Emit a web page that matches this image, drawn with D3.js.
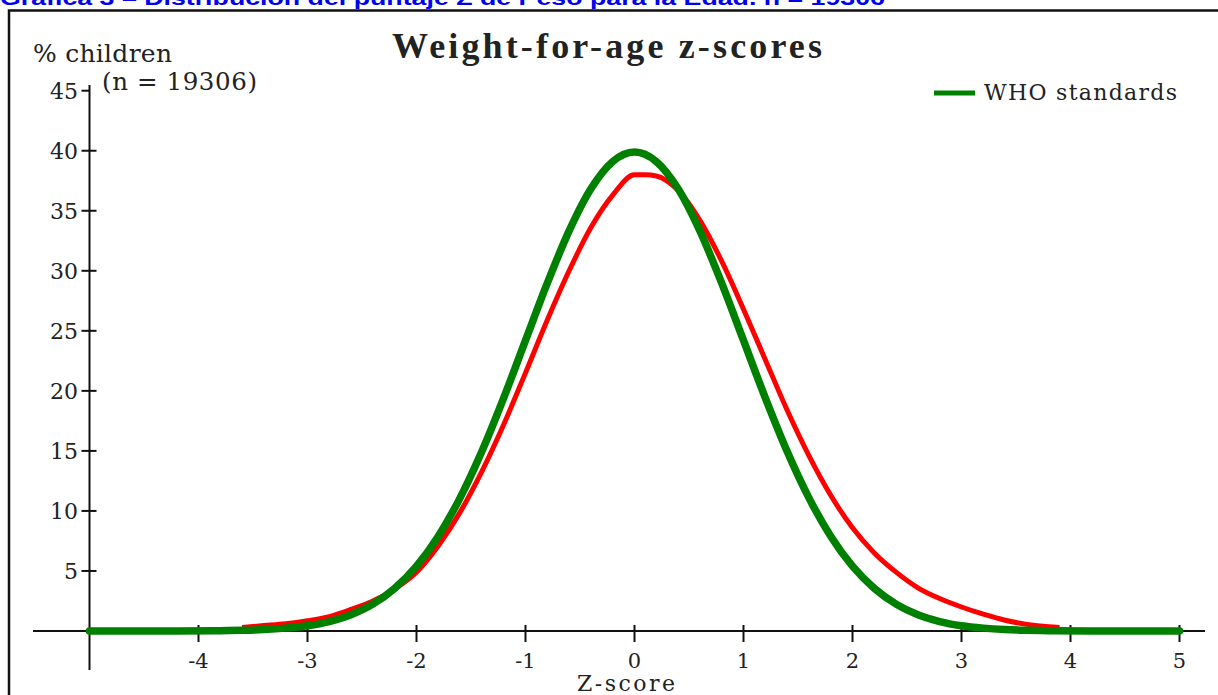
<!DOCTYPE html>
<html>
<head>
<meta charset="utf-8">
<script src="https://cdn.jsdelivr.net/npm/d3@7"></script>
<style>
  html, body { margin: 0; padding: 0; background: #fff; overflow: hidden; }
</style>
</head>
<body>
<svg id="chart"></svg>
<script>
// WHO reference curve (% children by z-score)
const whoZ = [-5.0, -4.6, -4.2, -3.8, -3.6, -3.4, -3.2, -3.0, -2.8, -2.6, -2.4, -2.2, -2.0, -1.8, -1.6, -1.4, -1.2, -1.0, -0.8, -0.6, -0.4, -0.2, 0.0,
  0.2, 0.4, 0.6, 0.8, 1.0, 1.2, 1.4, 1.6, 1.8, 2.0, 2.2, 2.4, 2.6, 2.8, 3.0, 3.2, 3.4, 3.6, 3.8, 4.2, 4.6, 5.0];
const whoPct = [0, 0, 0, 0.03, 0.06, 0.12, 0.24, 0.44, 0.79, 1.36, 2.24, 3.55, 5.4, 7.9, 11.09, 14.97, 19.42, 24.2, 28.97, 33.32, 36.83, 39.1, 39.89,
  39.1, 36.83, 33.32, 28.97, 24.2, 19.42, 14.97, 11.09, 7.9, 5.4, 3.55, 2.24, 1.36, 0.79, 0.44, 0.24, 0.12, 0.06, 0.03, 0, 0, 0];

// survey sample curve (n = 19306)
const surveyZ = [-3.6, -3.4, -3.2, -3.0, -2.8, -2.6, -2.4, -2.2, -2.0, -1.8, -1.6, -1.4, -1.2, -1.0, -0.8, -0.6, -0.4, -0.2, 0.0, 0.1, 0.2,
  0.4, 0.6, 0.8, 1.0, 1.2, 1.4, 1.6, 1.8, 2.0, 2.2, 2.4, 2.6, 2.8, 3.0, 3.2, 3.4, 3.6, 3.8, 3.9];
const surveyPct = [0.3, 0.45, 0.6, 0.85, 1.2, 1.8, 2.5, 3.5, 4.9, 7.1, 9.9, 13.3, 17.2, 21.5, 25.9, 30.0, 33.6, 36.3, 38, 38, 37.9,
  36.7, 34.2, 30.8, 26.8, 22.6, 18.4, 14.6, 11.3, 8.6, 6.5, 4.9, 3.6, 2.7, 2.0, 1.4, 0.9, 0.55, 0.35, 0.3];

const xTicks = [-4, -3, -2, -1, 0, 1, 2, 3, 4, 5];
const yTicks = [5, 10, 15, 20, 25, 30, 35, 40, 45];

const pageTitle = "Gráfica 3 – Distribución del puntaje Z de Peso para la Edad. n = 19306";
const chartTitle = "Weight-for-age z-scores";
const legendLabel = "WHO standards";

const width = 1218, height = 695;
const serif = "'DejaVu Serif', serif";

const svg = d3.select("#chart")
  .attr("width", width)
  .attr("height", height);

// page heading, cut off at the top as in the scan
svg.append("text")
  .attr("x", 0)
  .attr("y", 5)
  .attr("textLength", 885)
  .attr("lengthAdjust", "spacingAndGlyphs")
  .style("font-family", "'Liberation Sans', Arial, sans-serif")
  .style("font-weight", "bold")
  .style("font-size", "20px")
  .style("fill", "#0000ee")
  .text(pageTitle);

// frame
svg.append("rect")
  .attr("x", 9)
  .attr("y", 10.5)
  .attr("width", 1240)
  .attr("height", 720)
  .style("fill", "none")
  .style("stroke", "#111")
  .style("stroke-width", 2.5);

const x = d3.scaleLinear().domain([-5, 5]).range([89.5, 1179.5]);
const y = d3.scaleLinear().domain([0, 45]).range([631, 90.7]);

// x axis
svg.append("line")
  .attr("x1", 33).attr("x2", 1205)
  .attr("y1", y(0)).attr("y2", y(0))
  .style("stroke", "#111").style("stroke-width", 2);

svg.selectAll("line.xtick")
  .data(xTicks)
  .enter().append("line")
  .attr("class", "xtick")
  .attr("x1", (d) => x(d)).attr("x2", (d) => x(d))
  .attr("y1", y(0) - 6).attr("y2", y(0) + 11)
  .style("stroke", "#111").style("stroke-width", 2);

svg.selectAll("text.xlabel")
  .data(xTicks)
  .enter().append("text")
  .attr("class", "xlabel")
  .attr("x", (d) => x(d))
  .attr("y", 668)
  .attr("text-anchor", "middle")
  .style("font-family", serif)
  .style("font-size", "21px")
  .style("fill", "#222")
  .text((d) => String(d));

// y axis
svg.append("line")
  .attr("x1", x(-5)).attr("x2", x(-5))
  .attr("y1", 85).attr("y2", 670)
  .style("stroke", "#111").style("stroke-width", 2);

svg.selectAll("line.ytick")
  .data(yTicks)
  .enter().append("line")
  .attr("class", "ytick")
  .attr("x1", x(-5) - 8).attr("x2", (d) => d === 45 ? x(-5) : x(-5) + 7)
  .attr("y1", (d) => y(d)).attr("y2", (d) => y(d))
  .style("stroke", "#111").style("stroke-width", 2);

svg.selectAll("text.ylabel")
  .data(yTicks)
  .enter().append("text")
  .attr("class", "ylabel")
  .attr("x", 78)
  .attr("y", (d) => y(d))
  .attr("dy", "0.36em")
  .attr("text-anchor", "end")
  .style("font-family", serif)
  .style("font-size", "22px")
  .style("fill", "#222")
  .text((d) => d);

// axis titles
svg.append("text")
  .attr("x", 33).attr("y", 62)
  .attr("textLength", 139)
  .style("font-family", serif).style("font-size", "25px").style("fill", "#222")
  .text("% children");

svg.append("text")
  .attr("x", 102).attr("y", 90)
  .attr("textLength", 155)
  .style("font-family", serif).style("font-size", "24.5px").style("fill", "#222")
  .text("(n = 19306)");

svg.append("text")
  .attr("x", 577).attr("y", 691)
  .attr("textLength", 98)
  .style("font-family", serif).style("font-size", "22px").style("fill", "#222")
  .text("Z-score");

svg.append("text")
  .attr("x", 392).attr("y", 58)
  .attr("textLength", 430)
  .style("font-family", "'Liberation Serif', serif")
  .style("font-weight", "bold")
  .style("font-size", "36px")
  .style("fill", "#222")
  .text(chartTitle);

// curves
const line = d3.line()
  .x((d) => x(d[0]))
  .y((d) => y(d[1]))
  .curve(d3.curveMonotoneX);

svg.append("path")
  .datum(d3.zip(surveyZ, surveyPct))
  .attr("d", line)
  .style("fill", "none")
  .style("stroke", "#ff0000")
  .style("stroke-width", 5)
  .style("stroke-linejoin", "round");

svg.append("path")
  .datum(d3.zip(whoZ, whoPct))
  .attr("d", line)
  .style("fill", "none")
  .style("stroke", "#008000")
  .style("stroke-width", 7.5)
  .style("stroke-linejoin", "round")
  .style("stroke-linecap", "round");

// legend
svg.append("line")
  .attr("x1", 934).attr("x2", 975)
  .attr("y1", 93).attr("y2", 93)
  .style("stroke", "#008000")
  .style("stroke-width", 5);

svg.append("text")
  .attr("x", 984).attr("y", 100)
  .attr("textLength", 193)
  .style("font-family", serif).style("font-size", "22px").style("fill", "#222")
  .text(legendLabel);
</script>
</body>
</html>
